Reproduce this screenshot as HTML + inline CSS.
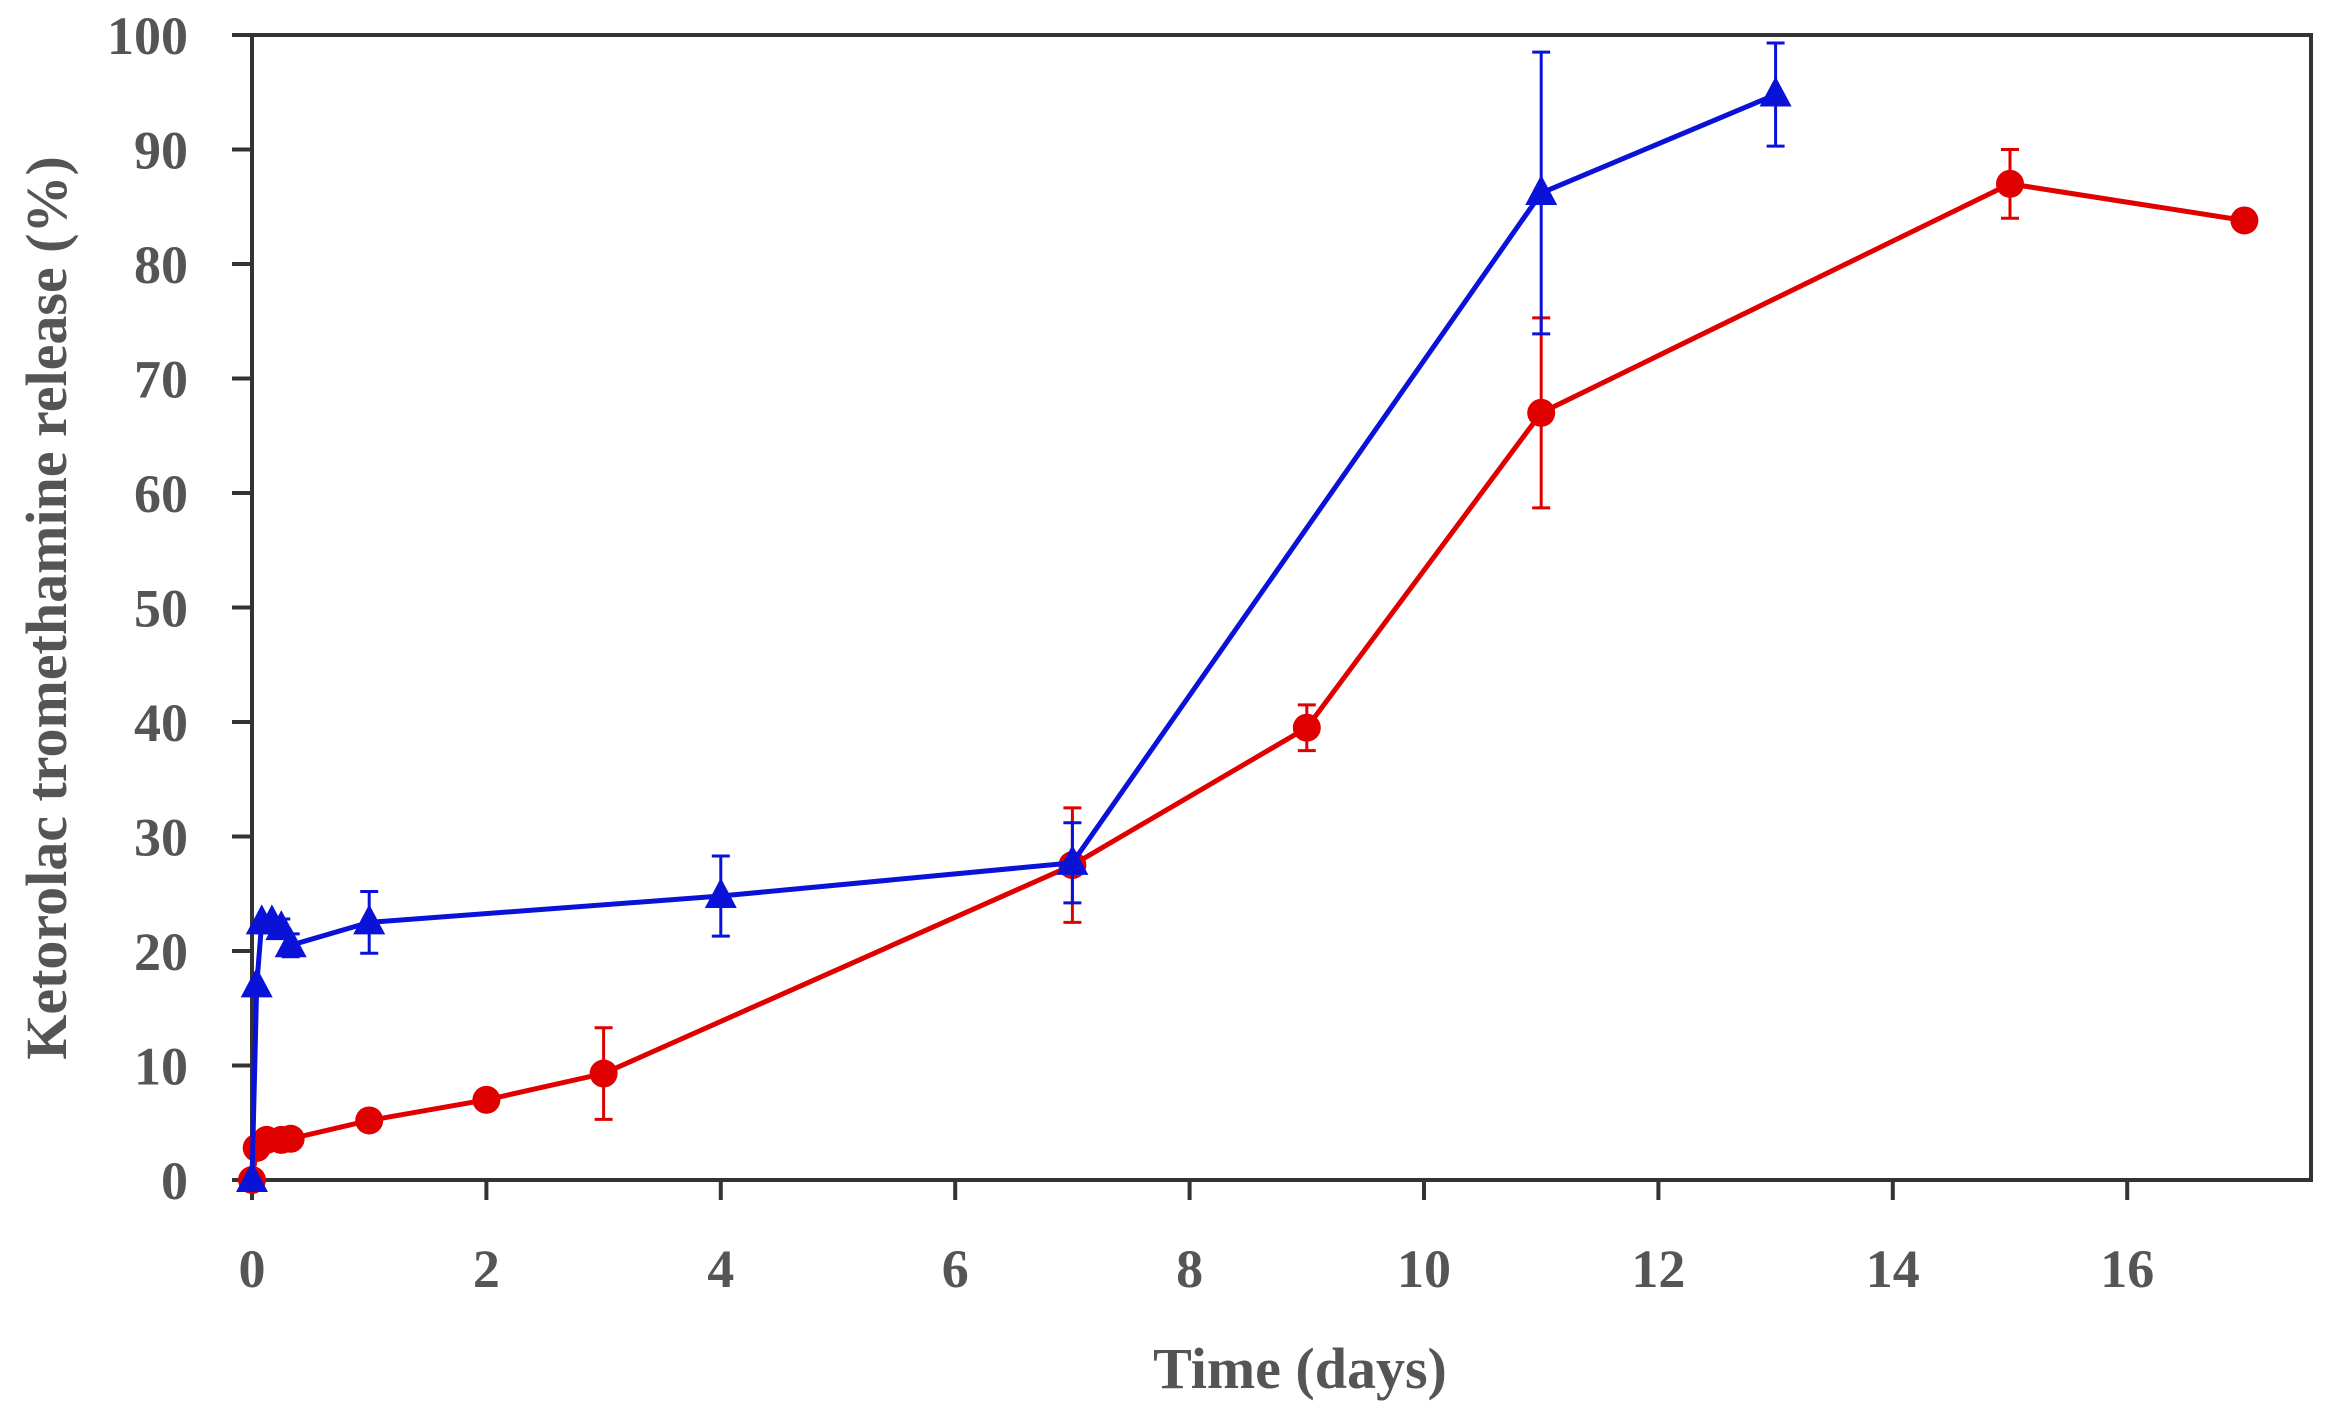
<!DOCTYPE html>
<html><head><meta charset="utf-8"><style>
body{margin:0;background:#fff}
text{font-family:"Liberation Serif",serif;fill:#555;font-weight:bold}
</style></head><body>
<svg id="c" width="2330" height="1410" viewBox="0 0 2330 1410" xmlns="http://www.w3.org/2000/svg">
<g id="axes"></g><g id="series"></g>
<text x="1300" y="1388" font-size="58" text-anchor="middle">Time (days)</text>
<text transform="translate(66,608) rotate(-90)" font-size="58" text-anchor="middle">Ketorolac tromethamine release (%)</text>
</svg>
<script>
const xTicks=[0,2,4,6,8,10,12,14,16];
const yTicks=[0,10,20,30,40,50,60,70,80,90,100];
const redX=[0,0.04,0.125,0.25,0.33,1,2,3,7,9,11,15,17];
const redY=[0,2.8,3.5,3.5,3.6,5.2,7,9.3,27.5,39.5,67,87,83.8];
const redErr=[0,0,0,0,0,0,0.8,4,5,2,8.3,3,0];
const blueX=[0,0.04,0.083,0.17,0.25,0.33,1,4,7,11,13];
const blueY=[0,17,22.5,22.5,22,20.5,22.5,24.8,27.7,86.2,94.8];
const blueErr=[0,0,0,0,0.8,1,2.7,3.5,3.5,12.3,4.5];
const L=252,R=2311,T=35,B=1180,PX=117.2;
const sx=v=>L+v*PX, sy=v=>B-(B-T)*v/100;
const NS='http://www.w3.org/2000/svg';
function mk(p,t,a){const e=document.createElementNS(NS,t);for(const k in a)e.setAttribute(k,a[k]);p.appendChild(e);return e;}
const ax=document.getElementById('axes'), sr=document.getElementById('series');
const frame=mk(ax,'rect',{x:L,y:T,width:R-L,height:B-T,fill:'none',stroke:'#333','stroke-width':4});


yTicks.forEach(v=>{
  const t=mk(ax,'line',{x1:L-20,x2:L,y1:sy(v),y2:sy(v),stroke:'#333','stroke-width':4});
  
  
  const l=mk(ax,'text',{x:L-64,y:sy(v)+19,'font-size':54,'text-anchor':'end'});l.textContent=v;
  
  
});
xTicks.forEach(v=>{
  const t=mk(ax,'line',{x1:sx(v),x2:sx(v),y1:B,y2:B+20,stroke:'#333','stroke-width':4});
  
  
  const l=mk(ax,'text',{x:sx(v),y:B+107,'font-size':54,'text-anchor':'middle'});l.textContent=v;
  
  
});
function series(xs,ys,es,col,name,tri){
  const g=mk(sr,'g',{});
  
  
  xs.forEach((x,i)=>{ if(es[i]>0){
    const cx=sx(x);
    const e=mk(g,'path',{d:`M${cx},${sy(ys[i]-es[i])}V${sy(ys[i]+es[i])}M${cx-9},${sy(ys[i]-es[i])}h18M${cx-9},${sy(ys[i]+es[i])}h18`,stroke:col,'stroke-width':3,fill:'none'});
    
    
  }});
  const ln=mk(g,'polyline',{points:xs.map((x,i)=>sx(x)+','+sy(ys[i])).join(' '),stroke:col,'stroke-width':5,fill:'none'});
  
  
  xs.forEach((x,i)=>{
    const cx=sx(x),cy=sy(ys[i]);let m;
    if(tri) m=mk(g,'polygon',{points:`${cx},${cy-18} ${cx-16},${cy+12} ${cx+16},${cy+12}`,fill:col});
    else m=mk(g,'circle',{cx:cx,cy:cy,r:14,fill:col});
    
    
  });
}
series(redX,redY,redErr,'#e00000','red',false);
series(blueX,blueY,blueErr,'#0a12d8','blue',true);
</script>
</body></html>
